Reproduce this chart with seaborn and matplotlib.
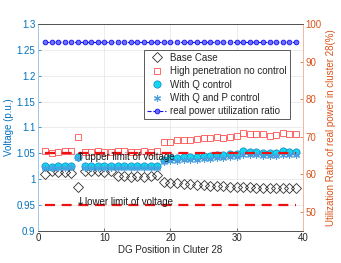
import matplotlib
matplotlib.use('Agg')
import matplotlib.pyplot as plt
import seaborn as sns
from matplotlib.ticker import FuncFormatter

# DG positions in cluster 28
pos = list(range(1, 40))

# voltage (p.u.)
base_case = [1.009, 1.016, 1.014, 1.014, 1.012, 0.985, 1.016, 1.016, 1.016, 1.014,
             1.016, 1.005, 1.005, 1.003, 1.005, 1.003, 1.006, 1.008, 0.994, 0.993,
             0.992, 0.991, 0.990, 0.989, 0.988, 0.987, 0.986, 0.986, 0.985, 0.985,
             0.984, 0.984, 0.983, 0.983, 0.983, 0.982, 0.982, 0.982, 0.982]
high_pen = [1.054, 1.050, 1.053, 1.054, 1.055, 1.081, 1.053, 1.053, 1.054, 1.053,
            1.053, 1.054, 1.054, 1.053, 1.053, 1.054, 1.053, 1.054, 1.071, 1.072,
            1.075, 1.075, 1.076, 1.077, 1.079, 1.079, 1.081, 1.080, 1.082, 1.083,
            1.089, 1.087, 1.087, 1.087, 1.084, 1.086, 1.089, 1.087, 1.087]
with_q = [1.025, 1.024, 1.025, 1.025, 1.026, 1.043, 1.025, 1.025, 1.025, 1.025,
          1.025, 1.025, 1.025, 1.025, 1.025, 1.025, 1.025, 1.025, 1.037, 1.040,
          1.041, 1.042, 1.042, 1.043, 1.044, 1.045, 1.046, 1.046, 1.048, 1.049,
          1.054, 1.052, 1.052, 1.051, 1.050, 1.051, 1.054, 1.052, 1.052]
with_qp = [1.022, 1.021, 1.022, 1.022, 1.023, 1.040, 1.022, 1.022, 1.022, 1.022,
           1.022, 1.022, 1.022, 1.022, 1.022, 1.022, 1.022, 1.022, 1.032, 1.034,
           1.035, 1.036, 1.036, 1.037, 1.038, 1.039, 1.040, 1.040, 1.042, 1.043,
           1.047, 1.046, 1.046, 1.045, 1.044, 1.045, 1.047, 1.046, 1.046]
# real power utilization ratio (%)
util_ratio = [95.2, 95.2, 95.2, 95.2, 95.2, 95.2, 95.2, 95.2, 95.2, 95.2,
              95.2, 95.2, 95.2, 95.2, 95.2, 95.2, 95.2, 95.2, 95.2, 95.2,
              95.2, 95.2, 95.2, 95.2, 95.2, 95.2, 95.2, 95.2, 95.2, 95.2,
              95.2, 95.2, 95.2, 95.2, 95.2, 95.2, 95.2, 95.2, 95.2]
limit_x = [1, 39]
upper_lim = [1.05, 1.05]
lower_lim = [0.95, 0.95]

sns.set_style('ticks')
plt.rcParams['font.family'] = ['Liberation Sans', 'DejaVu Sans']
plt.rcParams['font.size'] = 7

left_c = '#0072BD'
right_c = '#D95319'

fig = plt.figure(figsize=(3.41, 2.63), dpi=100)
ax = fig.add_axes([0.1123, 0.1228, 0.7754, 0.7859])
ax2 = ax.twinx()

sns.lineplot(x=pos, y=base_case, ax=ax, linestyle='', marker='D', markersize=4.8,
             mfc='none', mec='#303030', mew=0.6, label='Base Case', legend=False)
sns.lineplot(x=pos, y=high_pen, ax=ax, linestyle='', marker='s', markersize=4.3,
             mfc='none', mec='#FF5050', mew=0.6, label='High penetration no control', legend=False)
sns.lineplot(x=pos, y=with_q, ax=ax, linestyle='', marker='o', markersize=5.2,
             mfc='#10D8EE', mec='#1A8FD0', mew=0.6, label='With Q control', legend=False)
sns.lineplot(x=pos, y=with_qp, ax=ax, linestyle='', marker=(6, 2, 0), markersize=5,
             mec='#4A9FE0', mew=0.8, label='With Q and P control', legend=False)
sns.lineplot(x=limit_x, y=upper_lim, ax=ax, color='#F01010', linewidth=1.6,
             dashes=(4.5, 3), legend=False)
sns.lineplot(x=limit_x, y=lower_lim, ax=ax, color='#F01010', linewidth=1.6,
             dashes=(4.5, 3), legend=False)
# limit annotations (arrow glyph drawn in DejaVu so it always renders)
ax.text(5.7, 1.043, '\u2191', va='center', ha='left', fontsize=8, color='#1a1a1a',
        family='DejaVu Sans')
ax.text(7.0, 1.043, 'upper limit of voltage', va='center', ha='left', fontsize=7, color='#1a1a1a')
ax.text(5.7, 0.956, '\u2193', va='center', ha='left', fontsize=8, color='#1a1a1a',
        family='DejaVu Sans')
ax.text(7.0, 0.956, 'lower limit of voltage', va='center', ha='left', fontsize=7, color='#1a1a1a')

sns.lineplot(x=pos, y=util_ratio, ax=ax2, color='#1010F0', linestyle='--', linewidth=0.8,
             marker='o', markersize=3.4, mfc='#7070FF', mec='#1010F0', mew=0.6,
             label='real power utilization ratio', legend=False)

ax.set_xlim(0, 40)
ax.set_ylim(0.9, 1.3)
ax2.set_ylim(45, 100)
ax.set_xticks([0, 10, 20, 30, 40])
ax.set_yticks([0.9, 0.95, 1.0, 1.05, 1.1, 1.15, 1.2, 1.25, 1.3])
ax2.set_yticks([50, 60, 70, 80, 90, 100])
ax.yaxis.set_major_formatter(FuncFormatter(lambda v, p: '%g' % round(v, 2)))

ax.grid(True, color='#e4e4e4', linewidth=0.5)
ax.set_axisbelow(True)
ax.tick_params(axis='both', direction='in', length=2.5, width=0.5, labelsize=7, pad=2)
ax.tick_params(axis='y', colors=left_c)
ax.tick_params(axis='x', colors='#404040', labelcolor='#262626')
ax2.tick_params(axis='y', direction='in', length=2.5, width=0.5, labelsize=7, pad=2, colors=right_c)

for a in (ax, ax2):
    a.spines['top'].set_color('#505050')
    a.spines['bottom'].set_color('#505050')
    a.spines['left'].set_color('#9CC8EC')
    a.spines['right'].set_color('#F0B8A0')
    for s in a.spines.values():
        s.set_linewidth(0.6)

ax.set_xlabel('DG Position in Cluter 28', fontsize=7, color='#262626', labelpad=1)
ax.set_ylabel('Voltage (p.u.)', fontsize=7, color=left_c, labelpad=2)
ax2.set_ylabel('Utilization Ratio of real power in cluster 28(%)', fontsize=7, color=right_c, labelpad=3)

handles = ax.get_lines()[:4] + ax2.get_lines()[:1]
labels = [h.get_label() for h in handles]
leg = ax2.legend(handles, labels, loc='upper left', bbox_to_anchor=(0.40, 0.875),
                 fontsize=7, frameon=True, fancybox=False, framealpha=1,
                 edgecolor='#404040', handlelength=2.0, handletextpad=0.4,
                 borderpad=0.3, labelspacing=0.35, borderaxespad=0)
leg.get_frame().set_linewidth(0.6)

fig.savefig('out.png', dpi=100)
